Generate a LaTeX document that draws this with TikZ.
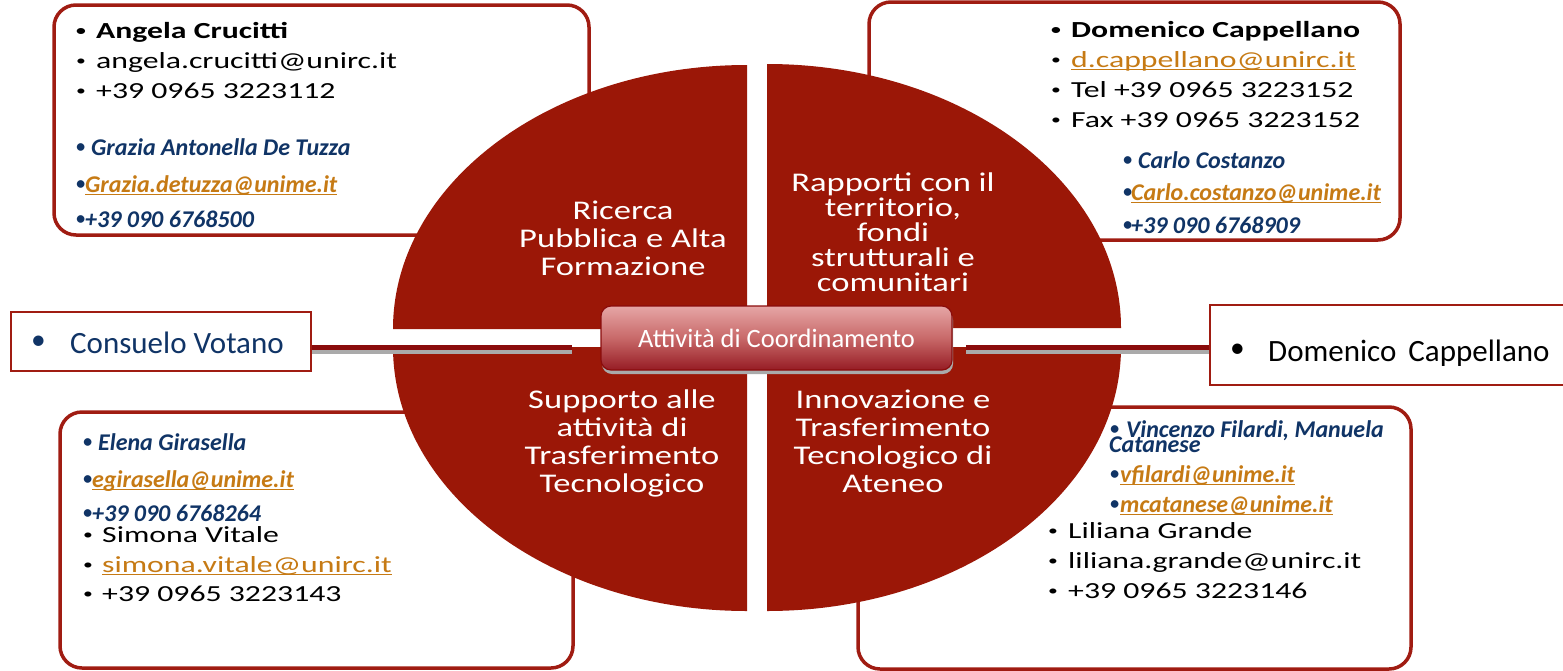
\documentclass[tikz,border=0pt]{standalone}
\usepackage{graphicx}
\usepackage{fontspec}
\setmainfont{Carlito}
\newfontfamily\blkfont[FakeStretch=1.38]{Carlito}
\newfontfamily\piefont[FakeStretch=1.28]{Carlito}
\usetikzlibrary{shadows}
\definecolor{piered}{RGB}{155,23,7}
\definecolor{framered}{RGB}{160,28,18}
\definecolor{connred}{RGB}{138,12,12}
\definecolor{navy}{RGB}{16,52,102}
\definecolor{amber}{RGB}{198,122,20}
\definecolor{hubtop}{RGB}{230,166,166}
\definecolor{hubmid}{RGB}{200,105,105}
\definecolor{hubbot}{RGB}{150,28,36}
\definecolor{shadegray}{RGB}{170,170,170}
\newcommand\ulx[1]{\setbox0\hbox{#1}\rlap{\rule[-3pt]{\wd0}{1.3pt}}\box0}
\newcommand\bul[2][0.62]{\makebox[#2][l]{\raisebox{0.11em}{\scalebox{#1}{\textbullet}}}}
\begin{document}
\begin{tikzpicture}[x=1pt,y=-1pt,
  card/.style={draw=framered, line width=3.5pt, fill=white, rounded corners=22pt, inner sep=0pt},
  namebox/.style={draw=framered, line width=2.2pt, fill=white, inner sep=0pt},
  quad/.style={fill=piered},
  ln/.style={inner sep=0pt, anchor=base west},
  blk/.style={ln, text=black, font=\blkfont\fontsize{23}{28}\selectfont},
  blkb/.style={ln, text=black, font=\blkfont\bfseries\fontsize{23}{28}\selectfont},
  nav/.style={ln, text=navy, font=\bfseries\itshape\fontsize{24}{28}\selectfont},
  big/.style={ln, font=\fontsize{31}{36}\selectfont},
  pietxt/.style={inner sep=0pt, anchor=base, align=center, text=white, font=\piefont\fontsize{27}{28}\selectfont},
  hub/.style={draw=connred, line width=1.2pt, rounded corners=10pt, top color=hubtop, bottom color=hubbot, middle color=hubmid, text=white, font=\fontsize{26.5}{30}\selectfont, inner sep=0pt, general shadow={fill=shadegray, shadow yshift=-4pt, shadow xshift=1pt}},
  link/.style={draw=connred, line width=5pt},
  linkshadow/.style={draw=shadegray, line width=4pt}
]
\useasboundingbox (0,0) rectangle (1563,670);
\clip (0,0) rectangle (1563,670);

% contact cards
\node[card, minimum width=535pt, minimum height=230pt] (cardTL) at (321.5,120) {};
\node[card, minimum width=531pt, minimum height=238pt] (cardTR) at (1134.5,121) {};
\node[card, minimum width=513pt, minimum height=256pt] (cardBL) at (316.5,540) {};
\node[card, minimum width=553pt, minimum height=262pt] (cardBR) at (1134.5,538) {};

% pie quadrants
\fill[quad] (747,329) -- (393,329) arc[start angle=180, end angle=270, x radius=354, y radius=264] -- cycle;
\fill[quad] (767,328) -- (767,64) arc[start angle=270, end angle=360, x radius=354, y radius=264] -- cycle;
\fill[quad] (747,347) -- (393,347) arc[start angle=180, end angle=90, x radius=354, y radius=264] -- cycle;
\fill[quad] (767,347) -- (1121,347) arc[start angle=0, end angle=90, x radius=354, y radius=264] -- cycle;

% pie labels (anchor = baseline of last line)
\node[pietxt] (lblTL) at (623,275) {Ricerca\\Pubblica e Alta\\Formazione};
\node[pietxt, font=\piefont\fontsize{27}{25}\selectfont] (lblTR) at (893,291) {Rapporti con il\\territorio,\\fondi\\strutturali e\\comunitari};
\node[pietxt] (lblBL) at (622,492) {Supporto alle\\attività di\\Trasferimento\\Tecnologico};
\node[pietxt] (lblBR) at (893,492) {Innovazione e\\Trasferimento\\Tecnologico di\\Ateneo};

% side name boxes
\node[namebox, minimum width=300pt, minimum height=59pt] (cons) at (161,341.5) {};
\node[namebox, minimum width=365pt, minimum height=80pt] (dom) at (1392.5,345) {};
\node[big, text=navy] (constxt) at (31,353) {\bul[0.95]{39pt}Consuelo Votano};
\node[big, text=black] (domtxt) at (1230,361) {\bul[0.95]{38pt}Domenico\hspace{0.39em}Cappellano};

% connectors
\coordinate (lend) at (572,347.5);
\coordinate (rstart) at (966,347.5);
\coordinate (lstart) at (cons.east |- lend);
\coordinate (rend) at (dom.west |- rstart);
\draw[linkshadow] ([yshift=-4.5pt]lstart) -- ([yshift=-4.5pt]lend);
\draw[link] (lstart) -- (lend);
\draw[linkshadow] ([yshift=-4.5pt]rstart) -- ([yshift=-4.5pt]rend);
\draw[link] (rstart) -- (rend);

% central hub
\node[hub, minimum width=351pt, minimum height=64pt] (hub) at (776.5,338) {Attività di Coordinamento};

% top-left card text
\node[blkb] (tl1) at (76,38) {\bul{20pt}Angela Crucitti};
\node[blk] (tl2) at (76,68) {\bul{20pt}angela.crucitti@unirc.it};
\node[blk] (tl3) at (76,98) {\bul{20pt}+39 0965 3223112};
\node[nav] (tl4) at (76,155) {\bul[0.75]{15pt}Grazia Antonella De Tuzza};
\node[nav] (tl5) at (76,192) {\bul[0.75]{9pt}\color{amber}\ulx{Grazia.detuzza@unime.it}};
\node[nav] (tl6) at (76,227) {\bul[0.75]{9pt}+39 090 6768500};

% top-right card text
\node[blkb] (tr1) at (1051,37) {\bul{20pt}Domenico Cappellano};
\node[blk] (tr2) at (1051,67) {\bul{20pt}\color{amber}\ulx{d.cappellano@unirc.it}};
\node[blk] (tr3) at (1051,97) {\bul{20pt}Tel +39 0965 3223152};
\node[blk] (tr4) at (1051,127) {\bul{20pt}Fax +39 0965 3223152};
\node[nav] (tr5) at (1123,168) {\bul[0.75]{15pt}Carlo Costanzo};
\node[nav] (tr6) at (1123,200) {\bul[0.75]{8pt}\color{amber}\ulx{Carlo.costanzo@unime.it}};
\node[nav] (tr7) at (1123,233) {\bul[0.75]{8pt}+39 090 6768909};

% bottom-left card text
\node[nav] (bl1) at (83,450) {\bul[0.75]{15pt}Elena Girasella};
\node[nav] (bl2) at (83,487) {\bul[0.75]{9pt}\color{amber}\ulx{egirasella@unime.it}};
\node[nav] (bl3) at (83,521) {\bul[0.75]{9pt}+39 090 6768264};
\node[blk] (bl4) at (83,542) {\bul{19pt}Simona Vitale};
\node[blk] (bl5) at (83,572) {\bul{19pt}\color{amber}\ulx{simona.vitale@unirc.it}};
\node[blk] (bl6) at (83,601) {\bul{19pt}+39 0965 3223143};

% bottom-right card text
\node[nav] (br1) at (1110,437) {\bul[0.75]{16pt}Vincenzo Filardi, Manuela};
\node[nav] (br2) at (1109,452) {Catanese};
\node[nav] (br3) at (1110,482) {\bul[0.75]{10pt}\color{amber}\ulx{vfilardi@unime.it}};
\node[nav] (br4) at (1110,512) {\bul[0.75]{10pt}\color{amber}\ulx{mcatanese@unime.it}};
\node[blk] (br5) at (1048,538) {\bul{20pt}Liliana Grande};
\node[blk] (br6) at (1048,568) {\bul{20pt}liliana.grande@unirc.it};
\node[blk] (br7) at (1048,598) {\bul{20pt}+39 0965 3223146};
\end{tikzpicture}
\end{document}
